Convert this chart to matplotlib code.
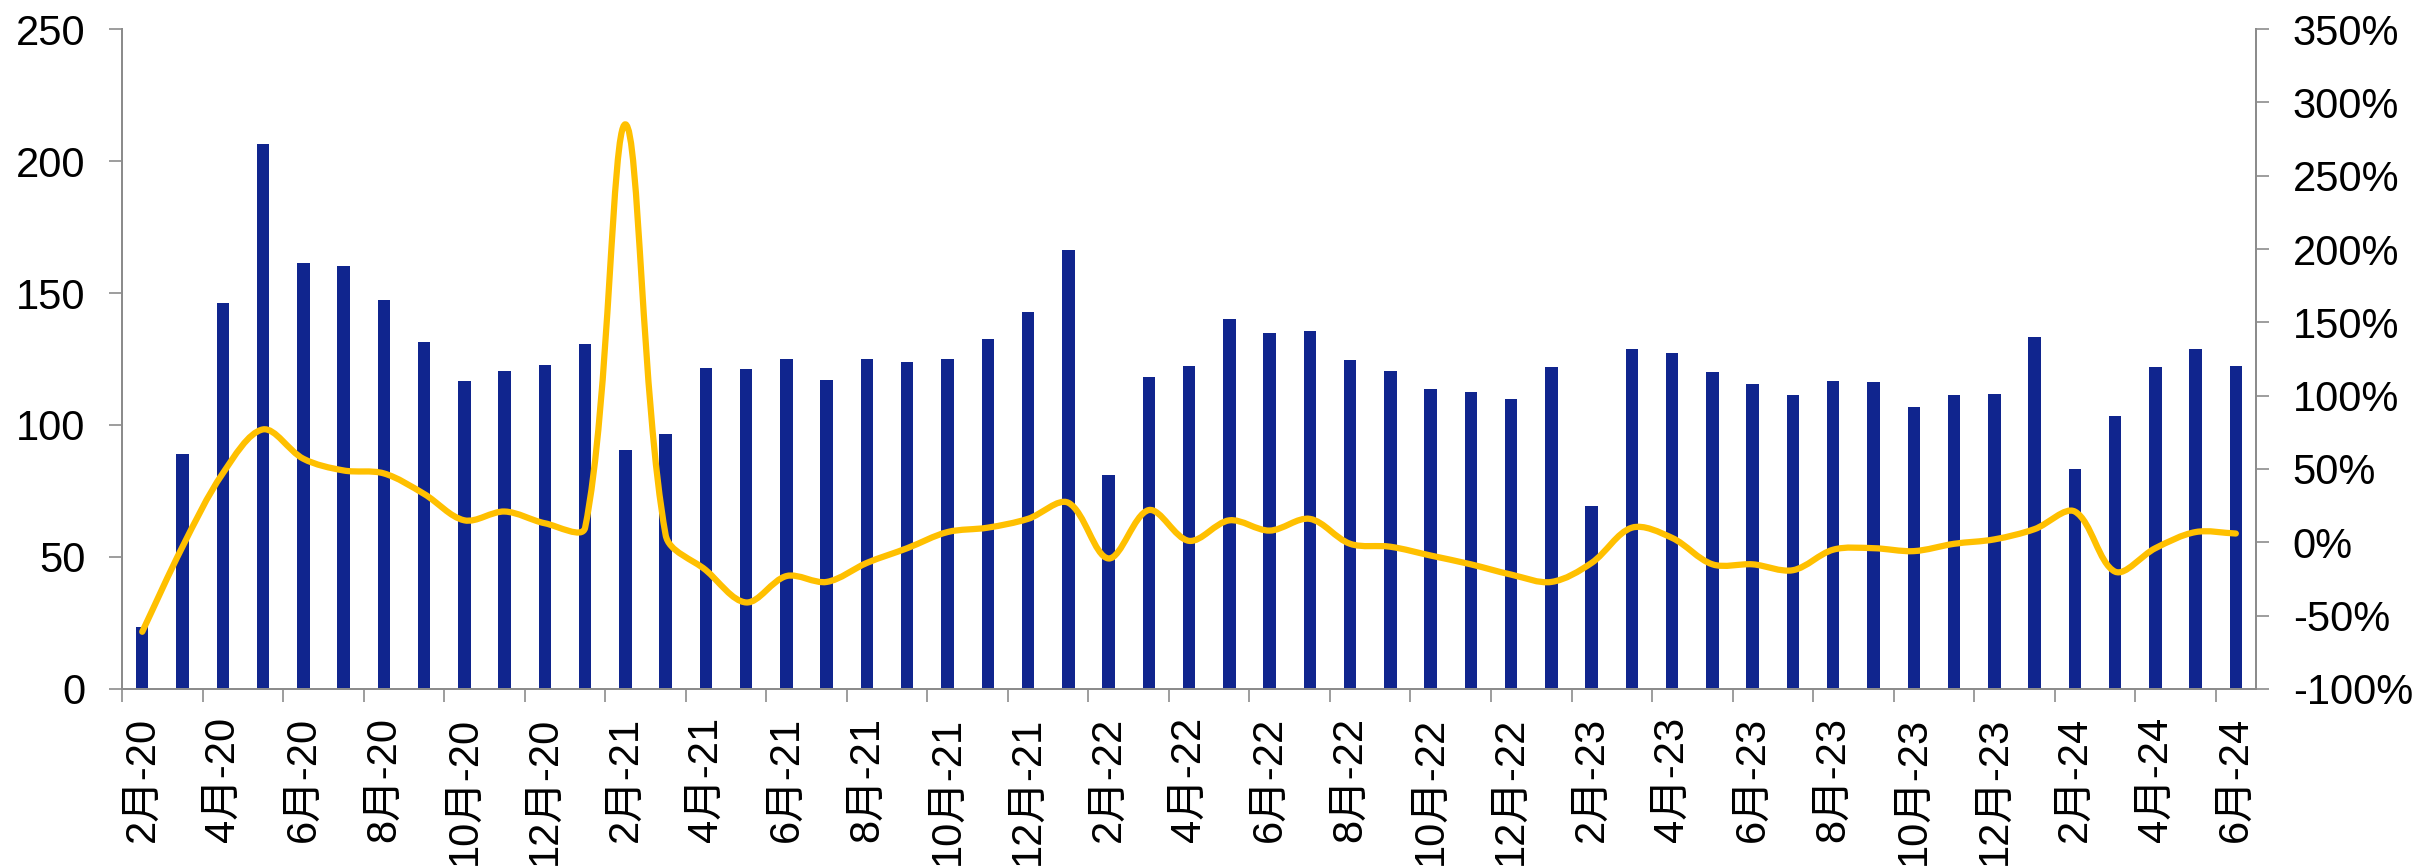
import matplotlib
matplotlib.use('Agg')
from matplotlib import pyplot as plt
from matplotlib.path import Path
from matplotlib.patches import PathPatch
from matplotlib.ticker import FuncFormatter
import numpy as np

plt.rcParams['font.family'] = ['Liberation Sans', 'Noto Sans CJK SC']

# monthly data, Feb 2020 - Jun 2024
months = []
for y in range(20, 25):
    for m in range(1, 13):
        if (y == 20 and m < 2) or (y == 24 and m > 6):
            continue
        months.append(f'{m}月-{y}')

volume = [23.5, 89.1, 146.1, 206.5, 161.4, 160.1, 147.2, 131.3, 116.6, 120.4, 122.8,
          130.8, 90.5, 96.7, 121.6, 121.3, 125.1, 116.9, 125.1, 124.0, 124.9, 132.4, 142.8,
          166.1, 81.2, 118.1, 122.5, 140.2, 134.8, 135.7, 124.7, 120.6, 113.6, 112.6, 109.8, 122.0,
          69.2, 128.7, 127.2, 120.0, 115.5, 111.3, 116.7, 116.2, 107.0, 111.2, 111.9, 133.4,
          83.2, 103.5, 121.8, 128.6, 122.3]

yoy = [-61, -3, 47, 77, 57, 49, 47, 33, 15, 21, 13, 10,
       285, 5, -19, -41, -23, -27, -14, -4, 7, 10, 16, 27,
       -11, 22, 1, 15, 8, 16, -1, -3, -9, -15, -22, -27,
       -14, 10, 3, -15, -15, -19, -5, -4, -6, -1, 2, 9,
       21, -20, -4, 7, 6]

bar_color = '#10258E'
line_color = '#FFC000'
axis_color = '#8C8C8C'

fig = plt.figure(figsize=(24.18, 8.66), dpi=100)
ax = fig.add_axes([0.0505, 0.2044, 0.8825, 0.7621])
ax2 = ax.twinx()

x = np.arange(len(months))
ax.bar(x, volume, width=0.31, color=bar_color, zorder=2)
ax.set_xlim(-0.5, len(months) - 0.5)
ax.set_ylim(0, 250)
ax.set_yticks(range(0, 251, 50))
ax2.set_ylim(-1.0, 3.5)
ax2.set_yticks(np.arange(-1.0, 3.51, 0.5))
ax2.yaxis.set_major_formatter(FuncFormatter(lambda v, p: f'{v * 100:.0f}%'))

# smoothed yoy line: bezier segments, tangent lengths weighted by
# neighbouring segment lengths in screen space to limit overshoot
pts = ax2.transData.transform(np.column_stack([x, np.array(yoy) / 100.0]))
n = len(pts)
verts = [pts[0]]
codes = [Path.MOVETO]
for i in range(n - 1):
    p0 = pts[max(i - 1, 0)]
    p1 = pts[i]
    p2 = pts[i + 1]
    p3 = pts[min(i + 2, n - 1)]
    l01 = np.hypot(*(p1 - p0))
    l12 = np.hypot(*(p2 - p1))
    l23 = np.hypot(*(p3 - p2))
    c1 = p1 + (p2 - p0) * (l12 / (l01 + l12 + 1e-9)) / 3.0 if i > 0 else p1 + (p2 - p1) / 3.0
    c2 = p2 - (p3 - p1) * (l12 / (l12 + l23 + 1e-9)) / 3.0 if i < n - 2 else p2 - (p2 - p1) / 3.0
    verts += [c1, c2, p2]
    codes += [Path.CURVE4] * 3
verts = ax2.transData.inverted().transform(np.array(verts))
ax2.add_patch(PathPatch(Path(verts, codes), facecolor='none', edgecolor=line_color,
                        lw=4.5, capstyle='round', joinstyle='round', zorder=3))

# labels on every other month, tick marks on the category boundaries
ax.set_xticks(x[::2])
ax.set_xticklabels(months[::2], rotation=90)
ax.set_xticks(np.arange(-0.5, len(months), 2), minor=True)
ax.tick_params(axis='x', which='major', length=0, pad=20, labelsize=30)
ax.tick_params(axis='x', which='minor', length=9.4, width=1.2, color=axis_color, direction='out')
ax.tick_params(axis='y', length=9.4, width=1.2, color=axis_color, pad=17, labelsize=30)
ax2.tick_params(axis='y', length=9.4, width=1.2, color=axis_color, pad=17, labelsize=30)

for a in (ax, ax2):
    a.spines['top'].set_visible(False)
    for s in ('left', 'right', 'bottom'):
        a.spines[s].set_color(axis_color)
        a.spines[s].set_linewidth(1.4)

fig.savefig('out.png', dpi=100)
